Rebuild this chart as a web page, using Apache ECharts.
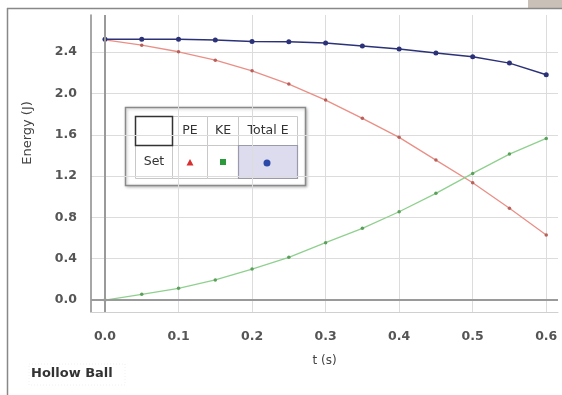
<!DOCTYPE html>
<html>
<head>
<meta charset="utf-8">
<script src="https://cdn.jsdelivr.net/npm/echarts@6/dist/echarts.min.js"></script>
<style>html,body{margin:0;padding:0;background:#fff}#c{width:562px;height:395px}</style>
</head>
<body>
<div id="c"></div>
<script>
var tValues = [0, 0.05, 0.1, 0.15, 0.2, 0.25, 0.3, 0.35, 0.4, 0.45, 0.5, 0.55, 0.6];
var peValues = [2.52, 2.468, 2.404, 2.323, 2.22, 2.091, 1.936, 1.759, 1.575, 1.355, 1.136, 0.888, 0.629];
var keValues = [0.0, 0.055, 0.113, 0.194, 0.30, 0.413, 0.555, 0.694, 0.855, 1.033, 1.226, 1.413, 1.565];
var totalValues = [2.524, 2.524, 2.524, 2.517, 2.504, 2.501, 2.488, 2.459, 2.430, 2.391, 2.355, 2.294, 2.181];
var xTicks = [0, 0.1, 0.2, 0.3, 0.4, 0.5, 0.6];
var yTicks = [0, 0.4, 0.8, 1.2, 1.6, 2.0, 2.4];

function pairs(ys) { return tValues.map(function (t, i) { return [t, ys[i]]; }); }

var chart = echarts.init(document.getElementById('c'), null, { renderer: 'canvas' });
var font = 'DejaVu Sans';
chart.setOption({
  animation: false,
  backgroundColor: '#fff',
  grid: { left: 91, right: 4, top: 15, bottom: 83, containLabel: false },
  xAxis: {
    type: 'value', min: -0.019, max: 0.616,
    name: 't (s)', nameLocation: 'middle', nameGap: 43,
    nameTextStyle: { fontFamily: font, fontSize: 12, color: '#444' },
    axisLine: { show: true, onZero: false, lineStyle: { color: '#d0d0d0', width: 1 } },
    axisTick: { show: false, customValues: xTicks },
    axisLabel: { customValues: xTicks, margin: 18, fontFamily: font, fontSize: 12.5, fontWeight: 'bold', color: '#555',
      formatter: function (v) { return v.toFixed(1); } },
    splitLine: { show: true, lineStyle: { color: '#dcdcdc', width: 1 } }
  },
  yAxis: {
    type: 'value', min: -0.116, max: 2.76,
    axisLine: { show: true, onZero: false, lineStyle: { color: '#8a8a8a', width: 1.5 } },
    axisTick: { show: false, customValues: yTicks },
    axisLabel: { customValues: yTicks, margin: 14, fontFamily: font, fontSize: 12.5, fontWeight: 'bold', color: '#555',
      formatter: function (v) { return v.toFixed(1); } },
    splitLine: { show: true, lineStyle: { color: '#dcdcdc', width: 1 } }
  },
  series: [
    {
      name: 'PE', type: 'line', data: pairs(peValues),
      symbol: 'circle', symbolSize: 3.5,
      itemStyle: { color: '#b8605a' },
      lineStyle: { color: '#ea8f86', width: 1.3 },
      z: 3,
      markLine: {
        silent: true, symbol: 'none', label: { show: false },
        lineStyle: { color: '#9a9a9a', width: 2, type: 'solid' },
        data: [{ xAxis: 0 }, { yAxis: 0 }]
      }
    },
    {
      name: 'KE', type: 'line', data: pairs(keValues),
      symbol: 'circle', symbolSize: 3.5,
      itemStyle: { color: '#5aa05a' },
      lineStyle: { color: '#8fd08f', width: 1.3 },
      z: 3
    },
    {
      name: 'Total E', type: 'line', data: pairs(totalValues),
      symbol: 'circle', symbolSize: 5,
      itemStyle: { color: '#2c3278' },
      lineStyle: { color: '#2c3278', width: 1.5 },
      z: 4
    }
  ],
  graphic: [
    { type: 'rect', shape: { x: 528, y: 0, width: 34, height: 8 }, style: { fill: '#c9c1b8' }, silent: true },
    { type: 'line', shape: { x1: 7, y1: 8.5, x2: 562, y2: 8.5 }, style: { stroke: '#888', lineWidth: 1.5 }, silent: true },
    { type: 'line', shape: { x1: 7.5, y1: 8, x2: 7.5, y2: 395 }, style: { stroke: '#888', lineWidth: 1.5 }, silent: true },
    { type: 'text', x: 28, y: 133, rotation: Math.PI / 2,
      style: { text: 'Energy (J)', fontFamily: font, fontSize: 13, fill: '#444', align: 'center', verticalAlign: 'middle' }, silent: true },
    { type: 'rect', shape: { x: 29, y: 364, width: 96, height: 21 }, style: { fill: 'none', stroke: '#f0f0f0', lineWidth: 1, lineDash: [1, 2] }, silent: true },
    { type: 'text', x: 31, y: 374,
      style: { text: 'Hollow Ball', fontFamily: font, fontSize: 13, fontWeight: 'bold', fill: '#333', verticalAlign: 'middle' }, silent: true },
    // legend table
    { type: 'group', z: 50, children: [
      { type: 'rect', shape: { x: 125.5, y: 107.5, width: 180, height: 78 },
        style: { fill: '#fff', stroke: '#8a8a8a', lineWidth: 1.5, shadowBlur: 3, shadowColor: 'rgba(0,0,0,0.25)', shadowOffsetX: 1, shadowOffsetY: 1 } },
      { type: 'rect', shape: { x: 172.5, y: 116.5, width: 35, height: 29 }, style: { fill: '#fff', stroke: '#c8c8c8', lineWidth: 1 } },
      { type: 'rect', shape: { x: 207.5, y: 116.5, width: 31, height: 29 }, style: { fill: '#fff', stroke: '#c8c8c8', lineWidth: 1 } },
      { type: 'rect', shape: { x: 238.5, y: 116.5, width: 59, height: 29 }, style: { fill: '#fff', stroke: '#c8c8c8', lineWidth: 1 } },
      { type: 'rect', shape: { x: 135.5, y: 145.5, width: 37, height: 33 }, style: { fill: '#fff', stroke: '#c8c8c8', lineWidth: 1 } },
      { type: 'rect', shape: { x: 172.5, y: 145.5, width: 35, height: 33 }, style: { fill: '#fff', stroke: '#c8c8c8', lineWidth: 1 } },
      { type: 'rect', shape: { x: 207.5, y: 145.5, width: 31, height: 33 }, style: { fill: '#fff', stroke: '#c8c8c8', lineWidth: 1 } },
      { type: 'rect', shape: { x: 238.5, y: 145.5, width: 59, height: 33 }, style: { fill: '#dcdcee', stroke: '#9a9aaa', lineWidth: 1.2 } },
      { type: 'rect', shape: { x: 135.5, y: 116.5, width: 37, height: 29 }, style: { fill: '#fff', stroke: '#333', lineWidth: 1.5 } },
      { type: 'text', x: 190, y: 131, style: { text: 'PE', fontFamily: font, fontSize: 12.5, fill: '#333', align: 'center', verticalAlign: 'middle' } },
      { type: 'text', x: 223, y: 131, style: { text: 'KE', fontFamily: font, fontSize: 12.5, fill: '#333', align: 'center', verticalAlign: 'middle' } },
      { type: 'text', x: 268, y: 131, style: { text: 'Total E', fontFamily: font, fontSize: 12.5, fill: '#333', align: 'center', verticalAlign: 'middle' } },
      { type: 'text', x: 154, y: 162, style: { text: 'Set', fontFamily: font, fontSize: 12.5, fill: '#333', align: 'center', verticalAlign: 'middle' } },
      { type: 'polygon', shape: { points: [[190, 159], [186.5, 165.5], [193.5, 165.5]] }, style: { fill: '#d83030' } },
      { type: 'rect', shape: { x: 220, y: 159, width: 6, height: 6 }, style: { fill: '#2a9a3a' } },
      { type: 'circle', shape: { cx: 267, cy: 163, r: 3.5 }, style: { fill: '#2c48a8' } }
    ] }
  ]
});
</script>
</body>
</html>
